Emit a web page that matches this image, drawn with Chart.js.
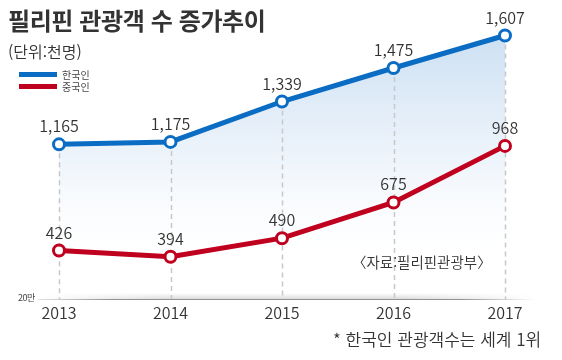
<!DOCTYPE html>
<html lang="ko">
<head>
<meta charset="utf-8">
<script src="https://cdn.jsdelivr.net/npm/chart.js@4/dist/chart.umd.min.js"></script>
<style>
  html, body { margin: 0; padding: 0; background: #fff; }
  #wrap { position: relative; width: 562px; height: 360px; overflow: hidden; font-family: "Noto Sans CJK KR", "Noto Sans", sans-serif; color: #333; }
  canvas { position: absolute; left: 0; top: 0; }
  .t { position: absolute; white-space: nowrap; line-height: 1; }
  #title { left: 8px; top: 8px; font-size: 24px; font-weight: 700; color: #333; letter-spacing: -0.4px; }
  #unit { left: 8px; top: 43px; font-size: 16px; color: #333; font-weight: 350; }
  .lg { position: absolute; left: 19px; width: 38px; height: 5px; }
  .lgt { position: absolute; left: 62px; font-size: 10px; color: #444; line-height: 1; }
  #src { left: 352px; top: 255px; font-size: 14.5px; color: #333; font-weight: 350; }
  #note { left: 333px; top: 330px; font-size: 17px; color: #333; font-weight: 350; }
  #base { left: 18px; top: 293px; font-size: 9px; color: #444; letter-spacing: -0.5px; }
</style>
</head>
<body>
<div id="wrap">
  <canvas id="c" width="562" height="360"></canvas>
  <div class="t" id="title">필리핀 관광객 수 증가추이</div>
  <div class="t" id="unit">(단위:천명)</div>
  <div class="lg" style="top:72px;background:#0b6cc4"></div>
  <div class="lgt" style="top:70px">한국인</div>
  <div class="lg" style="top:84px;background:#c0001f"></div>
  <div class="lgt" style="top:82px">중국인</div>
  <div class="t" id="src">〈자료:필리핀관광부〉</div>
  <div class="t" id="note">* 한국인 관광객수는 세계 1위</div>
  <div class="t" id="base">20만</div>
</div>
<script>
const years = ["2013", "2014", "2015", "2016", "2017"];
const korean = [1165, 1175, 1339, 1475, 1607];
const chinese = [426, 394, 490, 675, 968];
const koreanLabels = ["1,165", "1,175", "1,339", "1,475", "1,607"];
const chineseLabels = ["426", "394", "490", "675", "968"];

const BLUE = "#0b6cc4";
const RED = "#c0001f";
const FONT = '350 16px "Noto Sans CJK KR", "Noto Sans", sans-serif';

const overlay = {
  id: "overlay",
  beforeDatasetsDraw(chart) {
    const ctx = chart.ctx;
    const area = chart.chartArea;
    const bottom = area.bottom;
    ctx.save();
    const hg = ctx.createLinearGradient(40, 0, 535, 0);
    hg.addColorStop(0, "rgba(120,120,120,0)");
    hg.addColorStop(0.25, "rgba(120,120,120,0.25)");
    hg.addColorStop(0.75, "rgba(120,120,120,0.25)");
    hg.addColorStop(1, "rgba(120,120,120,0)");
    ctx.fillStyle = hg;
    ctx.fillRect(40, bottom - 6, 495, 6);
    const vg = ctx.createLinearGradient(0, bottom - 6, 0, bottom);
    vg.addColorStop(0, "rgba(255,255,255,1)");
    vg.addColorStop(1, "rgba(255,255,255,0)");
    ctx.fillStyle = vg;
    ctx.fillRect(40, bottom - 6, 495, 6);
    const lg = ctx.createLinearGradient(38, 0, 535, 0);
    lg.addColorStop(0, "rgba(110,110,110,0.2)");
    lg.addColorStop(0.15, "rgba(110,110,110,0.75)");
    lg.addColorStop(0.85, "rgba(110,110,110,0.75)");
    lg.addColorStop(1, "rgba(110,110,110,0)");
    ctx.strokeStyle = lg;
    ctx.lineWidth = 1.2;
    ctx.beginPath();
    ctx.moveTo(38, bottom + 0.5);
    ctx.lineTo(535, bottom + 0.5);
    ctx.stroke();
    const meta = chart.getDatasetMeta(0);
    ctx.strokeStyle = "#c8c8c8";
    ctx.lineWidth = 1.5;
    ctx.setLineDash([5, 4]);
    meta.data.forEach(pt => {
      ctx.beginPath();
      ctx.moveTo(Math.round(pt.x) + 0.5, pt.y);
      ctx.lineTo(Math.round(pt.x) + 0.5, bottom);
      ctx.stroke();
    });
    ctx.restore();
  },
  afterDatasetsDraw(chart) {
    const ctx = chart.ctx;
    ctx.save();
    ctx.fillStyle = "#333";
    ctx.textAlign = "center";
    ctx.textBaseline = "alphabetic";
    ctx.font = FONT;
    const sets = [koreanLabels, chineseLabels];
    sets.forEach((labels, di) => {
      const meta = chart.getDatasetMeta(di);
      meta.data.forEach((pt, i) => {
        ctx.fillText(labels[i], pt.x, pt.y - 12);
      });
    });
    const xs = chart.scales.x;
    ctx.font = FONT;
    years.forEach((y, i) => {
      ctx.fillText(y, xs.getPixelForValue(i), chart.chartArea.bottom + 20);
    });
    ctx.restore();
  }
};

new Chart(document.getElementById("c"), {
  type: "line",
  data: {
    labels: years,
    datasets: [
      {
        label: "한국인",
        data: korean,
        yAxisID: "yB",
        borderColor: BLUE,
        borderWidth: 5,
        pointRadius: 5.5,
        pointBorderWidth: 3,
        pointBackgroundColor: "#fff",
        pointBorderColor: BLUE,
        tension: 0,
        fill: "start",
        backgroundColor: (c) => {
          const a = c.chart.chartArea;
          if (!a) return "rgba(200,222,242,0.5)";
          const g = c.chart.ctx.createLinearGradient(0, a.top, 0, a.bottom);
          g.addColorStop(0, "rgba(196,219,241,0.95)");
          g.addColorStop(0.5, "rgba(230,239,249,0.7)");
          g.addColorStop(0.9, "rgba(255,255,255,0)");
          return g;
        }
      },
      {
        label: "중국인",
        data: chinese,
        yAxisID: "yR",
        borderColor: RED,
        borderWidth: 5,
        pointRadius: 5.5,
        pointBorderWidth: 3,
        pointBackgroundColor: "#fff",
        pointBorderColor: RED,
        tension: 0,
        fill: false
      }
    ]
  },
  options: {
    responsive: false,
    animation: false,
    devicePixelRatio: 1,
    layout: { padding: { left: 59, right: 57, top: 20, bottom: 61 } },
    plugins: {
      legend: { display: false },
      tooltip: { enabled: false },
      filler: { drawTime: "beforeDatasetsDraw" }
    },
    scales: {
      x: { display: false },
      yB: { display: false, min: 537, max: 1670 },
      yR: { display: false, min: 175, max: 1620 }
    }
  },
  plugins: [overlay]
});
</script>
</body>
</html>
